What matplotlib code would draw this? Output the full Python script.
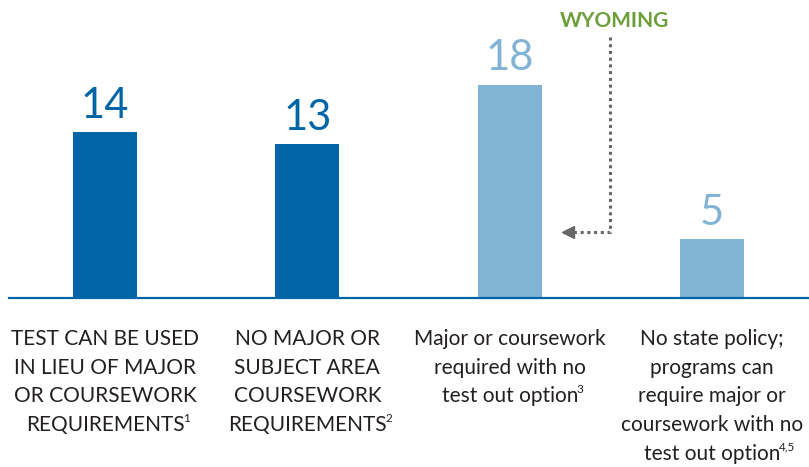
import matplotlib
matplotlib.use("Agg")
import matplotlib.pyplot as plt
import matplotlib.transforms as mtransforms

plt.rcParams['font.family'] = ['Lato', 'DejaVu Sans']

# ---- data ----
categories = [
    "TEST CAN BE USED\nIN LIEU OF MAJOR\nOR COURSEWORK\nREQUIREMENTS",
    "NO MAJOR OR\nSUBJECT AREA\nCOURSEWORK\nREQUIREMENTS",
    "Major or coursework\nrequired with no\ntest out option",
    "No state policy;\nprograms can\nrequire major or\ncoursework with no\ntest out option",
]
footnotes = ["1", "2", "3", "4,5"]
values = [14, 13, 18, 5]
bar_colors = ["#0065a6", "#0065a6", "#80b3d4", "#80b3d4"]
highlight_label = "WYOMING"
highlight_index = 2

# ---- figure ----
W, H, DPI = 809, 467, 100
fig = plt.figure(figsize=(W / DPI, H / DPI), dpi=DPI)
base_px = 298
ax = fig.add_axes([9 / W, (H - base_px) / H, 800 / W, base_px / H])

x = list(range(len(values)))
ax.bar(x, values, width=0.316, color=bar_colors, zorder=2)
ax.set_xlim(-0.4745, 3.479)
ax.set_ylim(0, 25.13)

for xi, v, c in zip(x, values, bar_colors):
    ax.text(xi, v + 0.6, str(v), ha='center', va='bottom', fontsize=30,
            color=c)

for s in ['top', 'left', 'right']:
    ax.spines[s].set_visible(False)
ax.spines['bottom'].set_color('#0065a6')
ax.spines['bottom'].set_linewidth(1.6)
ax.set_yticks([])
ax.set_xticks([])

# category labels, drawn line by line for even spacing
px2pt = 72 / DPI
first_base = 47 * px2pt
line_step = 28.7 * px2pt
blend = mtransforms.blended_transform_factory(ax.transData, ax.transAxes)
for xi, cat, fn in zip(x, categories, footnotes):
    lines = cat.split("\n")
    last = None
    for i, line in enumerate(lines):
        tr = blend + mtransforms.ScaledTranslation(
            0, -(first_base + i * line_step) / 72, fig.dpi_scale_trans)
        last = ax.text(xi, 0, line, transform=tr, ha='center', va='baseline',
                       fontsize=15, color='#231f20', clip_on=False)
    ax.annotate(fn, xy=(1, 1), xycoords=last, xytext=(-0.8, 1.5),
                textcoords='offset points', ha='left', va='top',
                fontsize=8.5, color='#231f20', annotation_clip=False)

# Wyoming annotation
gx = highlight_index + 0.495
ax.text(highlight_index + 0.52, 23.4, highlight_label, ha='center', va='center',
        fontsize=15, fontweight='bold', color='#6c9e3a')
ax.plot([gx, gx, highlight_index + 0.30], [22.0, 5.56, 5.56], ls=(0, (1, 1.2)),
        color='#666666', lw=2.2, zorder=3)
ax.plot([highlight_index + 0.29], [5.56], marker='<', ms=9, color='#666666',
        zorder=3, clip_on=False)

fig.savefig("out.png", dpi=DPI)
